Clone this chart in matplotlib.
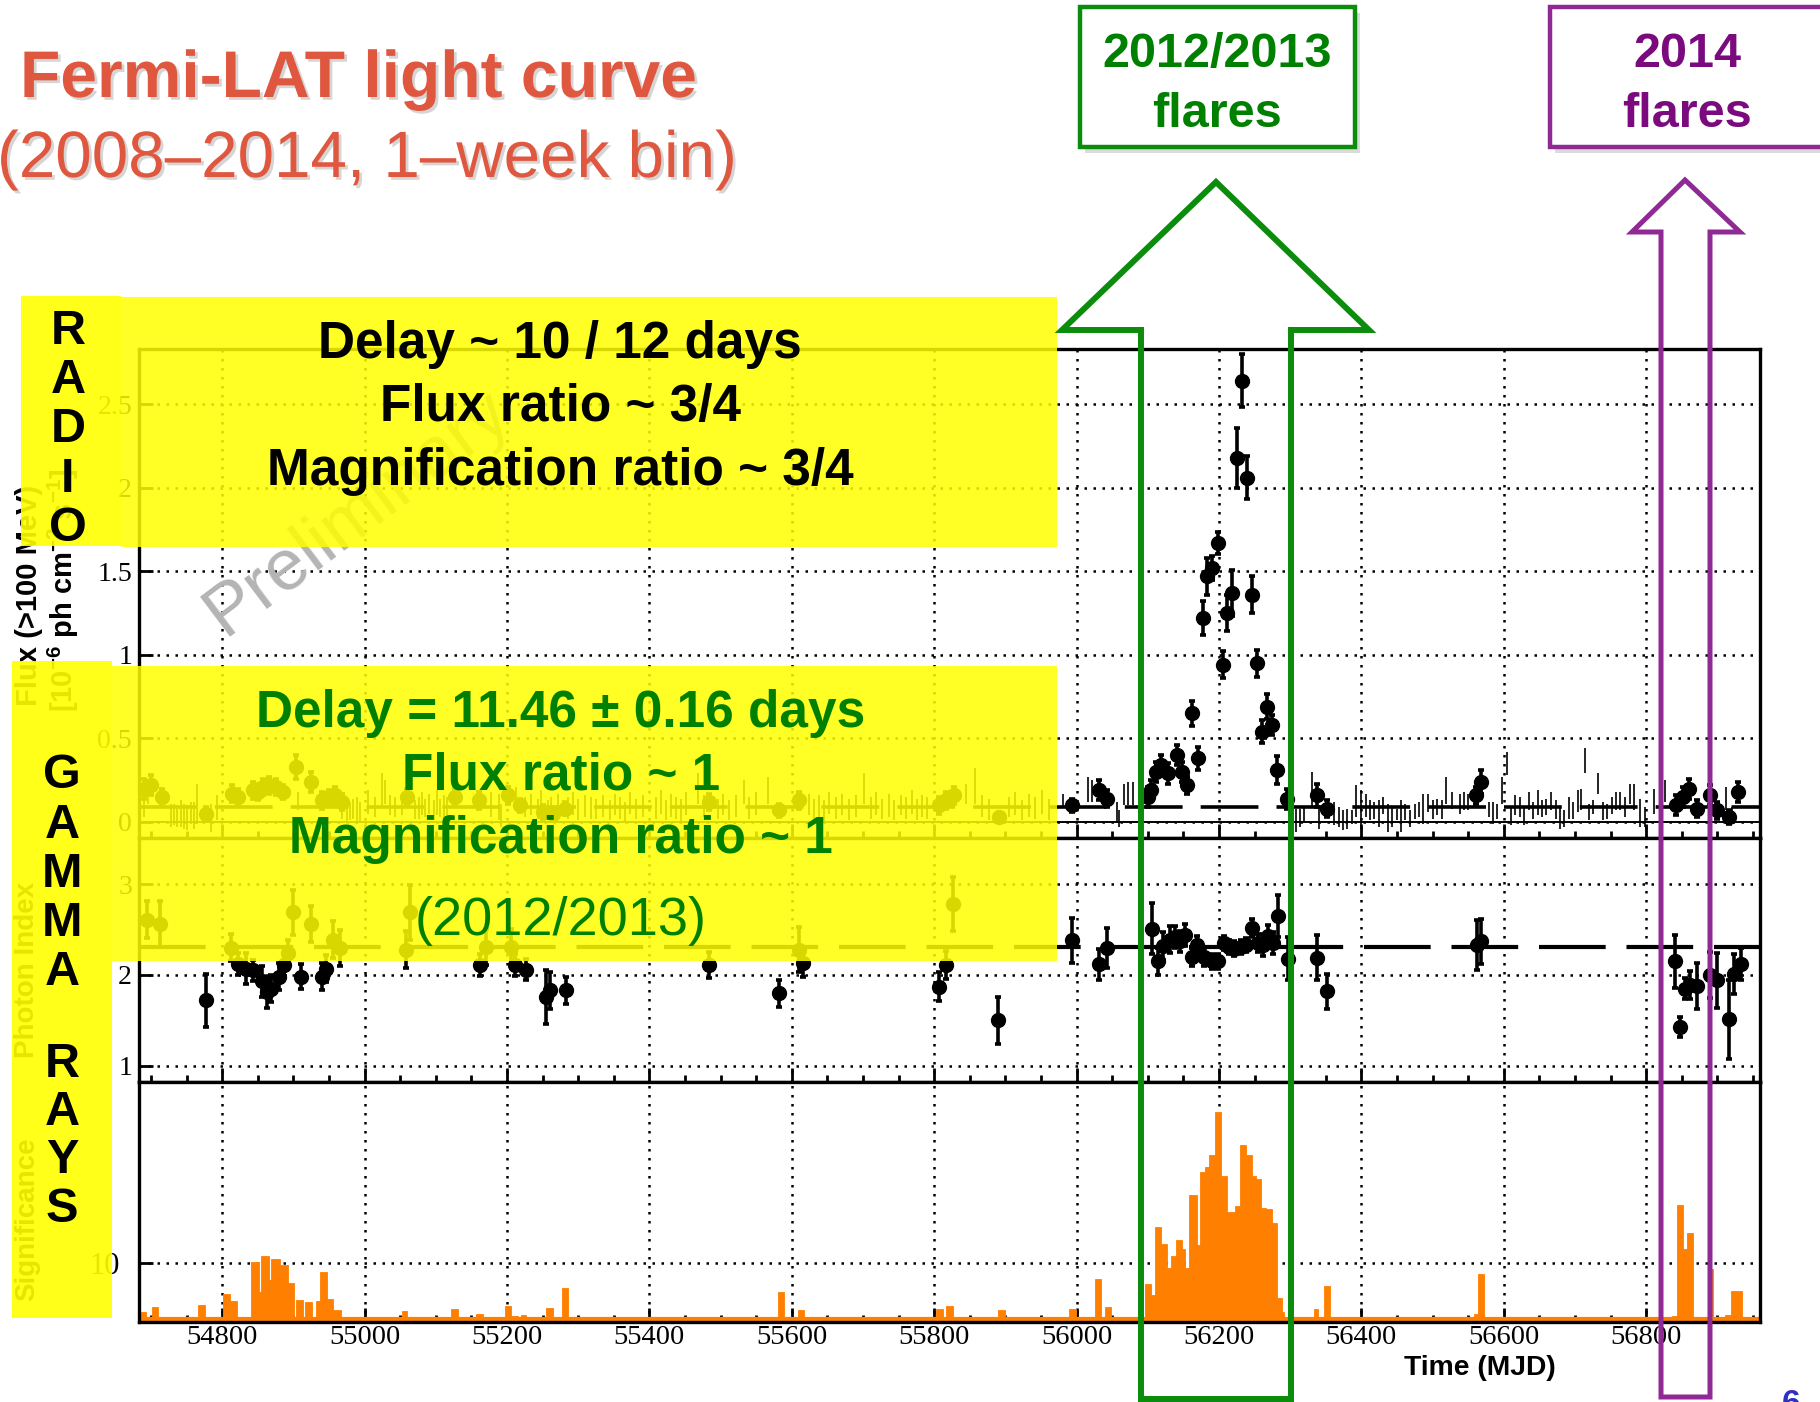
"""
Fermi-LAT weekly light curve slide (2008-2014) with radio / gamma-ray
annotation boxes and flare markers.
"""

import matplotlib
matplotlib.use("Agg")
import matplotlib.pyplot as plt
import matplotlib.patheffects as pe
from matplotlib.patches import Rectangle, Polygon
from matplotlib.ticker import MultipleLocator

plt.rcParams['font.family'] = ['Liberation Sans', 'DejaVu Sans']
plt.rcParams['mathtext.fontset'] = 'custom'
plt.rcParams['mathtext.rm'] = 'Liberation Sans'
plt.rcParams['mathtext.bf'] = 'Liberation Sans:bold'

# ---- data ----
mjd_ticks = [54800, 55000, 55200, 55400, 55600, 55800, 56000, 56200, 56400, 56600, 56800]

# flux (>100 MeV) detections, 1e-6 ph cm^-2 s^-1
flux_mjd = [54690, 54700, 54716, 54777, 54814, 54822, 54843, 54850, 54857, 54866,
            54876, 54885, 54903, 54924, 54940, 54950, 54959, 54968, 55059, 55127,
            55160, 55202, 55218, 55251, 55265, 55281, 55484, 55582, 55610, 55807,
            55816, 55828, 55891, 55993, 56031, 56043, 56100, 56105, 56112, 56119,
            56128, 56141, 56148, 56155, 56162, 56170, 56177, 56183, 56190, 56198,
            56205, 56212, 56219, 56226, 56233, 56240, 56246, 56254, 56260, 56268,
            56274, 56282, 56296, 56338, 56352, 56561, 56568, 56842, 56852, 56860,
            56871, 56890, 56900, 56917, 56929]
flux_val = [0.20, 0.22, 0.15, 0.05, 0.17, 0.15, 0.19, 0.18, 0.21, 0.22,
            0.21, 0.18, 0.33, 0.24, 0.13, 0.15, 0.16, 0.12, 0.15, 0.15,
            0.13, 0.16, 0.10, 0.06, 0.05, 0.08, 0.12, 0.07, 0.13, 0.10,
            0.13, 0.16, 0.03, 0.10, 0.19, 0.14, 0.15, 0.19, 0.30, 0.34,
            0.29, 0.40, 0.30, 0.22, 0.65, 0.38, 1.22, 1.47, 1.52, 1.67,
            0.94, 1.25, 1.37, 2.18, 2.64, 2.06, 1.36, 0.95, 0.54, 0.69,
            0.58, 0.31, 0.14, 0.16, 0.08, 0.16, 0.24, 0.10, 0.15, 0.20,
            0.08, 0.16, 0.07, 0.03, 0.18]
flux_err = [0.06, 0.06, 0.05, 0.04, 0.05, 0.05, 0.05, 0.05, 0.05, 0.05,
            0.05, 0.04, 0.07, 0.06, 0.05, 0.04, 0.05, 0.05, 0.05, 0.05,
            0.05, 0.05, 0.04, 0.04, 0.04, 0.04, 0.05, 0.04, 0.05, 0.05,
            0.05, 0.05, 0.03, 0.04, 0.06, 0.05, 0.06, 0.06, 0.06, 0.06,
            0.06, 0.06, 0.06, 0.05, 0.075, 0.07, 0.10, 0.11, 0.07, 0.065,
            0.08, 0.11, 0.14, 0.18, 0.16, 0.13, 0.11, 0.08, 0.07, 0.075,
            0.06, 0.085, 0.06, 0.07, 0.05, 0.05, 0.07, 0.06, 0.06, 0.06,
            0.05, 0.06, 0.05, 0.04, 0.06]

# low-significance weeks (drawn as bare error bars)
ul_mjd = [54690, 54695, 54728, 54732, 54737, 54742, 54746, 54751, 54756, 54760,
          54765, 54784, 54793, 54907, 54968, 54975, 54980, 54984, 54989, 54994,
          55005, 55015, 55024, 55029, 55036, 55043, 55052, 55071, 55076, 55080,
          55085, 55090, 55097, 55101, 55106, 55111, 55115, 55178, 55188, 55192,
          55213, 55225, 55234, 55244, 55247, 55258, 55262, 55272, 55286, 55293,
          55300, 55309, 55318, 55325, 55335, 55344, 55351, 55358, 55365, 55372,
          55381, 55391, 55409, 55416, 55423, 55430, 55437, 55444, 55451, 55468,
          55477, 55496, 55503, 55512, 55521, 55533, 55540, 55550, 55566, 55624,
          55631, 55638, 55645, 55652, 55662, 55671, 55680, 55690, 55701, 55711,
          55718, 55727, 55736, 55743, 55753, 55760, 55769, 55776, 55783, 55790,
          55844, 55858, 55867, 55877, 55905, 55914, 55923, 55933, 55942, 55951,
          55961, 55981, 56016, 56022, 56057, 56060, 56066, 56072, 56079, 56308,
          56314, 56319, 56330, 56340, 56362, 56368, 56374, 56380, 56387, 56393,
          56399, 56406, 56412, 56418, 56425, 56431, 56437, 56443, 56450, 56456,
          56462, 56469, 56475, 56481, 56487, 56494, 56500, 56506, 56513, 56519,
          56528, 56538, 56544, 56550, 56579, 56585, 56591, 56597, 56604, 56610,
          56616, 56623, 56629, 56635, 56641, 56648, 56654, 56660, 56667, 56673,
          56679, 56685, 56692, 56698, 56704, 56708, 56714, 56720, 56726, 56733,
          56739, 56745, 56752, 56758, 56764, 56770, 56777, 56783, 56792, 56799,
          56811, 56827, 56912, 56921]
ul_hi = [0.17, 0.25, 0.11, 0.11, 0.10, 0.13, 0.11, 0.10, 0.12, 0.12,
         0.23, 0.11, 0.16, 0.18, 0.17, 0.11, 0.12, 0.14, 0.15, 0.12,
         0.19, 0.15, 0.29, 0.25, 0.16, 0.15, 0.17, 0.13, 0.15, 0.18,
         0.14, 0.17, 0.13, 0.19, 0.14, 0.16, 0.15, 0.18, 0.17, 0.11,
         0.21, 0.15, 0.17, 0.14, 0.19, 0.13, 0.15, 0.17, 0.15, 0.18,
         0.14, 0.16, 0.15, 0.14, 0.16, 0.13, 0.17, 0.15, 0.12, 0.18,
         0.14, 0.16, 0.15, 0.19, 0.13, 0.17, 0.15, 0.14, 0.18, 0.29,
         0.16, 0.14, 0.17, 0.13, 0.16, 0.25, 0.15, 0.18, 0.27, 0.17,
         0.14, 0.16, 0.13, 0.18, 0.15, 0.17, 0.14, 0.16, 0.29, 0.15,
         0.18, 0.14, 0.17, 0.13, 0.16, 0.15, 0.19, 0.14, 0.16, 0.15,
         0.23, 0.32, 0.16, 0.14, 0.15, 0.18, 0.13, 0.17, 0.15, 0.19,
         0.14, 0.17, 0.27, 0.25, 0.12, 0.07, 0.23, 0.24, 0.24, 0.08,
         0.08, 0.09, 0.30, 0.08, 0.12, 0.09, 0.07, 0.08, 0.07, 0.22,
         0.19, 0.17, 0.13, 0.12, 0.13, 0.15, 0.11, 0.09, 0.08, 0.13,
         0.11, 0.07, 0.11, 0.12, 0.17, 0.17, 0.13, 0.14, 0.13, 0.27,
         0.18, 0.17, 0.18, 0.17, 0.12, 0.12, 0.11, 0.27, 0.42, 0.09,
         0.16, 0.15, 0.09, 0.18, 0.12, 0.19, 0.13, 0.14, 0.18, 0.13,
         0.09, 0.07, 0.15, 0.12, 0.19, 0.20, 0.44, 0.11, 0.13, 0.29,
         0.12, 0.11, 0.15, 0.18, 0.18, 0.15, 0.23, 0.23, 0.14, 0.09,
         0.20, 0.25, 0.21, 0.09]
ul_lo = [0.03, 0.11, -0.03, -0.02, -0.03, -0.03, -0.04, -0.05, -0.01, -0.04,
         -0.01, -0.06, 0.01, 0.07, 0.02, 0.00, 0.01, 0.02, -0.01, 0.00,
         0.05, 0.03, 0.09, 0.11, 0.04, 0.03, 0.04, 0.02, 0.02, 0.04,
         0.03, 0.05, 0.01, 0.04, 0.03, 0.02, 0.04, 0.03, 0.01, -0.03,
         0.07, 0.03, 0.04, 0.02, 0.05, 0.02, 0.03, 0.03, 0.02, 0.04,
         0.01, 0.03, 0.02, 0.02, 0.03, 0.01, 0.04, 0.02, 0.00, 0.05,
         0.02, 0.03, 0.02, 0.05, 0.01, 0.03, 0.02, 0.00, 0.04, 0.11,
         0.03, 0.02, 0.04, 0.01, 0.03, 0.11, 0.02, 0.04, 0.11, 0.04,
         0.02, 0.03, 0.00, 0.05, 0.02, 0.04, 0.01, 0.03, 0.11, 0.02,
         0.04, 0.02, 0.03, 0.01, 0.04, 0.02, 0.05, 0.01, 0.03, 0.02,
         0.11, 0.11, 0.03, 0.01, 0.03, 0.04, 0.01, 0.03, 0.02, 0.05,
         0.01, 0.09, 0.12, 0.12, 0.00, -0.03, 0.10, 0.10, 0.10, -0.06,
         -0.03, 0.00, 0.09, -0.04, -0.02, -0.03, -0.05, -0.04, -0.01, 0.03,
         -0.03, 0.03, 0.01, 0.02, -0.03, 0.05, -0.06, -0.03, 0.01, -0.06,
         0.01, -0.03, 0.02, 0.03, -0.01, 0.06, 0.02, 0.04, 0.02, 0.11,
         0.08, 0.05, 0.07, 0.07, 0.03, -0.01, 0.02, 0.11, 0.28, -0.02,
         0.04, 0.03, -0.02, 0.07, 0.02, 0.04, 0.03, 0.04, 0.07, 0.02,
         -0.04, -0.03, 0.02, 0.02, 0.06, 0.07, 0.29, 0.01, 0.05, 0.17,
         0.01, 0.02, 0.05, 0.07, 0.07, 0.03, 0.11, 0.07, -0.03, -0.03,
         0.05, 0.12, 0.07, 0.01]
flux_mean = 0.09

# photon index
idx_mjd = [54694, 54713, 54777, 54812, 54822, 54833, 54843, 54856, 54863, 54869,
           54879, 54886, 54893, 54900, 54910, 54925, 54940, 54945, 54955, 54965,
           55058, 55063, 55162, 55170, 55206, 55211, 55226, 55255, 55260, 55283,
           55484, 55582, 55610, 55616, 55807, 55816, 55826, 55890, 55994, 56031,
           56043, 56106, 56114, 56121, 56131, 56138, 56145, 56152, 56162, 56169,
           56179, 56190, 56198, 56207, 56214, 56221, 56231, 56238, 56247, 56255,
           56262, 56269, 56276, 56283, 56297, 56338, 56352, 56562, 56568, 56841,
           56848, 56855, 56862, 56871, 56890, 56900, 56917, 56924, 56933]
idx_val = [2.61, 2.56, 1.72, 2.30, 2.12, 2.07, 2.05, 1.93, 1.81, 1.85,
           1.98, 2.11, 2.24, 2.69, 1.98, 2.56, 1.98, 2.07, 2.39, 2.30,
           2.28, 2.69, 2.11, 2.31, 2.31, 2.11, 2.06, 1.76, 1.83, 1.83,
           2.11, 1.80, 2.28, 2.13, 1.87, 2.11, 2.78, 1.50, 2.38, 2.12,
           2.30, 2.51, 2.15, 2.32, 2.39, 2.42, 2.37, 2.44, 2.20, 2.33,
           2.20, 2.15, 2.15, 2.35, 2.31, 2.29, 2.31, 2.33, 2.52, 2.35,
           2.33, 2.43, 2.35, 2.65, 2.18, 2.19, 1.82, 2.33, 2.37, 2.15,
           1.43, 1.85, 1.89, 1.88, 2.00, 1.94, 1.51, 2.01, 2.12]
idx_err = [0.20, 0.25, 0.29, 0.15, 0.12, 0.17, 0.12, 0.17, 0.17, 0.15,
           0.15, 0.12, 0.15, 0.25, 0.14, 0.20, 0.15, 0.15, 0.20, 0.20,
           0.20, 0.30, 0.12, 0.20, 0.20, 0.12, 0.12, 0.30, 0.20, 0.15,
           0.14, 0.15, 0.25, 0.15, 0.16, 0.15, 0.30, 0.26, 0.25, 0.17,
           0.22, 0.28, 0.15, 0.15, 0.15, 0.12, 0.12, 0.12, 0.10, 0.10,
           0.10, 0.08, 0.08, 0.08, 0.08, 0.08, 0.08, 0.08, 0.10, 0.10,
           0.12, 0.12, 0.12, 0.23, 0.24, 0.25, 0.19, 0.28, 0.25, 0.29,
           0.11, 0.12, 0.15, 0.25, 0.25, 0.30, 0.44, 0.22, 0.18]
idx_mean = 2.31

# significance histogram: bin edges and heights
sig_lo = [54686, 54701, 54709, 54766, 54801, 54811, 54841, 54851, 54855, 54865,
          54869, 54881, 54893, 54903, 54916, 54932, 54937, 54947, 54955, 55052,
          55121, 55156, 55197, 55205, 55220, 55255, 55277, 55483, 55581, 55609,
          55803, 55817, 55889, 55990, 56026, 56040,
          56096, 56104, 56110, 56119, 56127, 56132, 56139, 56148, 56153, 56158,
          56169, 56174, 56180, 56186, 56194, 56203, 56211, 56222, 56229, 56238,
          56246, 56252, 56259, 56266, 56274, 56281,
          56288, 56333, 56347, 56558, 56564, 56836, 56843, 56852, 56857, 56889,
          56911, 56919]
sig_hi = [54693, 54709, 54716, 54776, 54811, 54821, 54851, 54855, 54865, 54869,
          54881, 54893, 54901, 54913, 54926, 54937, 54947, 54955, 54967, 55060,
          55131, 55166, 55205, 55215, 55227, 55265, 55285, 55491, 55589, 55617,
          55813, 55827, 55899, 55999, 56035, 56048,
          56104, 56110, 56119, 56127, 56132, 56139, 56148, 56153, 56158, 56169,
          56174, 56180, 56186, 56194, 56203, 56211, 56222, 56229, 56238, 56246,
          56252, 56259, 56266, 56274, 56281, 56288,
          56292, 56339, 56356, 56564, 56572, 56843, 56852, 56857, 56866, 56894,
          56919, 56935]
sig_val = [1.3, 2.2, 0.4, 2.5, 4.5, 3.2, 10.2, 4.9, 11.2, 7.0,
           10.7, 9.7, 6.4, 3.4, 3.0, 3.3, 8.4, 3.6, 1.7, 1.4,
           1.9, 1.0, 2.4, 0.6, 0.7, 2.0, 5.6, 0.3, 4.9, 1.7,
           1.9, 2.4, 1.6, 1.9, 7.1, 2.2,
           6.2, 4.4, 16.5, 13.4, 9.1, 11.2, 14.2, 12.6, 9.1, 22.1,
           13.2, 26.3, 27.1, 29.2, 36.9, 25.6, 19.2, 20.2, 31.1, 29.2,
           25.5, 25.0, 19.8, 19.6, 17.1, 3.8,
           1.2, 1.9, 5.9, 1.0, 8.1, 0.6, 20.3, 12.6, 15.3, 8.9,
           0.8, 5.0]

# ---- figure layout (pixel helpers) ----
W, H = 1820, 1402
X0, X1 = 139, 1760
fig = plt.figure(figsize=(W / 100, H / 100), dpi=100)


def panel(top, bottom):
    return fig.add_axes([X0 / W, 1 - bottom / H, (X1 - X0) / W, (bottom - top) / H])


ax1 = panel(349, 838)
ax2 = panel(838, 1082)
ax3 = panel(1082, 1322)

for ax in (ax1, ax2, ax3):
    ax.set_xlim(54683, 56960)
    ax.set_xticks(mjd_ticks)
    ax.xaxis.set_minor_locator(MultipleLocator(50))
    ax.tick_params(which='both', direction='in', width=2, color='black')
    ax.tick_params(which='major', length=10)
    ax.tick_params(which='minor', length=5)
    ax.tick_params(axis='y', which='minor', left=False)
    ax.grid(True, which='major', color='black', linestyle=(0, (1, 2.6)), linewidth=1.8)
    ax.set_axisbelow(True)
    for s in ax.spines.values():
        s.set_linewidth(2.4)
    ax.tick_params(axis='y', labelsize=20, pad=5)

ax1.tick_params(axis='x', labelbottom=False)
ax2.tick_params(axis='x', labelbottom=False)
ax3.tick_params(axis='x', labelsize=20.5, pad=2)

# top panel: flux
ax1.axhline(0, color='black', lw=1.4)
ax1.axhline(flux_mean, color='black', lw=2.6, dashes=(16, 5))
ax1.vlines(ul_mjd, ul_lo, ul_hi, color='black', lw=1.2)
ax1.errorbar(flux_mjd, flux_val, yerr=flux_err, fmt='o', color='black',
             ms=10, elinewidth=2.6, capsize=2, capthick=2.6)
ax1.set_ylim(-0.096, 2.83)
ax1.set_yticks([0, 0.5, 1, 1.5, 2, 2.5])
ax1.set_yticklabels(['0', '0.5', '1', '1.5', '2', '2.5'], fontfamily='Liberation Serif')

# middle panel: photon index
ax2.axhline(idx_mean, color='black', lw=3, dashes=(16, 5))
ax2.errorbar(idx_mjd, idx_val, yerr=idx_err, fmt='o', color='black',
             ms=10, elinewidth=2.6, capsize=2, capthick=2.6)
ax2.set_ylim(0.82, 3.51)
ax2.set_yticks([1, 2, 3])
ax2.set_yticklabels(['1', '2', '3'], fontfamily='Liberation Serif')

# bottom panel: significance
widths = [h - l for l, h in zip(sig_lo, sig_hi)]
ax3.bar(sig_lo, sig_val, width=widths, align='edge', color='#ff7f00',
        edgecolor='#ff7f00', lw=0.6)
ax3.axhline(0, color='#ff7f00', lw=3)
ax3.set_ylim(-0.5, 42.3)
ax3.set_yticks([10])
ax3.set_yticklabels(['10'], fontfamily='Liberation Serif', fontsize=22)
ax3.tick_params(axis='y', pad=14)
ax3.set_xticklabels([str(t) for t in mjd_ticks], fontfamily='Liberation Serif')


def fx(px):
    return px / W


def fy(py):
    return 1 - py / H


# axis titles and watermark (sit under the yellow boxes)
fig.text(fx(29), fy(595), 'Flux (>100 MeV)', rotation=90, ha='center', va='center',
         fontsize=21, fontweight='bold', zorder=3)
fig.text(fx(63), fy(590), r'[10$^{\mathbf{-6}}$ ph cm$^{\mathbf{-2}}$ s$^{\mathbf{-1}}$]',
         rotation=90, ha='center', va='center', fontsize=21, fontweight='bold', zorder=3)
fig.text(fx(27), fy(970), 'Photon Index', rotation=90, ha='center', va='center',
         fontsize=20, fontweight='bold', zorder=3)
fig.text(fx(27), fy(1219), 'Significance', rotation=90, ha='center', va='center',
         fontsize=20, fontweight='bold', zorder=3)
fig.text(fx(224), fy(637), 'Preliminary', rotation=37, rotation_mode='anchor',
         ha='left', va='baseline', fontsize=52, color='#b4b4b4', zorder=3)

# ---- slide overlay in pixel coordinates ----
ov = fig.add_axes([0, 0, 1, 1], zorder=5)
ov.set_xlim(0, W)
ov.set_ylim(H, 0)
ov.axis('off')
ov.patch.set_visible(False)

yellow = '#ffff00'
ov.add_patch(Rectangle((21, 296), 100, 250, facecolor=yellow, alpha=0.9, lw=0))
ov.add_patch(Rectangle((121, 297), 936, 250, facecolor=yellow, alpha=0.85, lw=0))
ov.add_patch(Rectangle((12, 661), 100, 657, facecolor=yellow, alpha=0.9, lw=0))
ov.add_patch(Rectangle((112, 666), 945, 295, facecolor=yellow, alpha=0.85, lw=0))

for ch, yb in zip('RADIO', [344, 393, 442, 492, 541]):
    ov.text(68, yb, ch, ha='center', va='baseline', fontsize=35, fontweight='bold')
for ch, yb in zip('GAMMARAYS', [788, 838, 887, 936, 985, 1077, 1125, 1173, 1222]):
    ov.text(62, yb, ch, ha='center', va='baseline', fontsize=35, fontweight='bold')

radio_lines = ['Delay ~ 10 / 12 days', 'Flux ratio ~ 3/4', 'Magnification ratio ~ 3/4']
for txt, yb in zip(radio_lines, [358, 421, 485]):
    ov.text(560, yb, txt, ha='center', va='baseline', fontsize=37, fontweight='bold')

green_txt = '#008000'
gamma_lines = ['Delay = 11.46 \u00b1 0.16 days', 'Flux ratio ~ 1', 'Magnification ratio ~ 1']
for txt, yb in zip(gamma_lines, [727, 790, 853]):
    ov.text(561, yb, txt, ha='center', va='baseline', fontsize=37, fontweight='bold',
            color=green_txt)
ov.text(561, 935, '(2012/2013)', ha='center', va='baseline', fontsize=39, color=green_txt)

# title
shadow = [pe.withSimplePatchShadow(offset=(2, -2), shadow_rgbFace='#888888', alpha=0.35)]
ov.text(20, 97, 'Fermi-LAT light curve', ha='left', va='baseline', fontsize=47.5,
        fontweight='bold', color='#e0573f', path_effects=shadow)
ov.text(-3, 177, '(2008\u20132014, 1\u2013week bin)', ha='left', va='baseline', fontsize=47.2,
        color='#e0573f', path_effects=shadow)

# flare boxes
green = '#0c8c0c'
purple = '#8f2a94'
for (x, w, col) in [(1080, 275, green), (1550, 300, purple)]:
    ov.add_patch(Rectangle((x + 5, 13), w, 140, facecolor='#999999', alpha=0.35, lw=0))
    ov.add_patch(Rectangle((x, 7), w, 140, facecolor='white', edgecolor=col, lw=3.2))
ov.text(1217, 67, '2012/2013', ha='center', va='baseline', fontsize=35,
        fontweight='bold', color=green_txt)
ov.text(1217, 127, 'flares', ha='center', va='baseline', fontsize=35,
        fontweight='bold', color=green_txt)
ov.text(1687, 67, '2014', ha='center', va='baseline', fontsize=35,
        fontweight='bold', color='#7a0a7e')
ov.text(1687, 127, 'flares', ha='center', va='baseline', fontsize=35,
        fontweight='bold', color='#7a0a7e')

# arrows
green_arrow = [(1216, 182), (1369, 330), (1291, 330), (1291, 1399),
               (1141, 1399), (1141, 330), (1062, 330)]
purple_arrow = [(1685, 180), (1740, 232), (1710, 232), (1710, 1397),
                (1661, 1397), (1661, 232), (1632, 232)]
ov.add_patch(Polygon(green_arrow, closed=True, fill=False, edgecolor=green,
                     lw=4.3, joinstyle='miter'))
ov.add_patch(Polygon(purple_arrow, closed=True, fill=False, edgecolor=purple,
                     lw=3.6, joinstyle='miter'))

ov.text(1480, 1375, 'Time (MJD)', ha='center', va='baseline', fontsize=20.3,
        fontweight='bold')
ov.text(1791, 1389, '6', ha='center', va='top', fontsize=24, fontweight='bold',
        color='#3030c0')

fig.savefig('out.png', dpi=100)
